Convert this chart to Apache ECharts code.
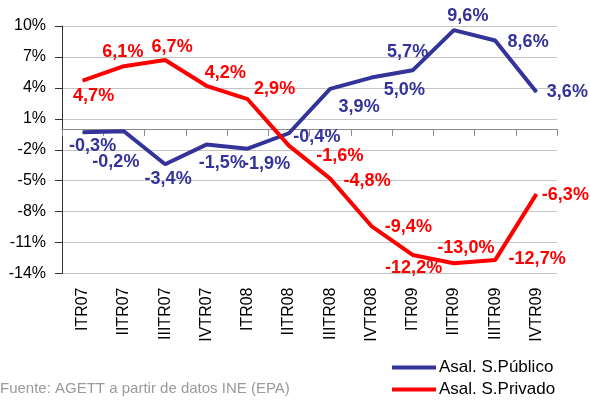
<!DOCTYPE html>
<html>
<head>
<meta charset="utf-8">
<script src="https://cdn.jsdelivr.net/npm/echarts@6/dist/echarts.min.js"></script>
<style>
  html, body { margin: 0; padding: 0; background: #fff; }
  #chart { width: 590px; height: 403px; }
</style>
</head>
<body>
<div id="chart"></div>
<script>
// quarters
const categories = ['ITR07', 'IITR07', 'IIITR07', 'IVTR07', 'ITR08', 'IITR08',
  'IIITR08', 'IVTR08', 'ITR09', 'IITR09', 'IIITR09', 'IVTR09'];

// year-on-year change, %
const publico = [-0.3, -0.2, -3.4, -1.5, -1.9, -0.4, 3.9, 5.0, 5.7, 9.6, 8.6, 3.6];
const privado = [4.7, 6.1, 6.7, 4.2, 2.9, -1.6, -4.8, -9.4, -12.2, -13.0, -12.7, -6.3];

const yTicks = [-14, -11, -8, -5, -2, 1, 4, 7, 10];

// where each value label sits relative to its point (px)
const publicoLabelOffset = [[10, 14], [-8, 31], [3, 15], [16, 18], [19, 15], [28, 4],
  [29, 18], [33, 12], [-5, -18], [14, -14], [33, 2], [31, 0]];
const privadoLabelOffset = [[11, 15], [-1, -14], [7, -13], [19, -13], [27, -10], [51, 10],
  [37, 2], [37, 1], [1, 13], [12, -15], [42, -1], [29, 1]];

const FONT = 'Liberation Sans, Arial, sans-serif';

function pct(v) {
  return v.toFixed(1).replace('.', ',') + '%';
}

function buildSeries(name, values, offsets, color) {
  return {
    name: name,
    type: 'line',
    xAxisIndex: 0,
    data: values.map((v, i) => ({ value: v, label: { offset: offsets[i] } })),
    symbol: 'circle',
    symbolSize: 1,
    showSymbol: true,
    itemStyle: { color: color },
    lineStyle: { color: color, width: 4 },
    label: {
      show: true,
      position: 'inside',
      align: 'center',
      verticalAlign: 'middle',
      color: color,
      fontFamily: FONT,
      fontWeight: 'bold',
      fontSize: 18,
      formatter: p => pct(p.value)
    },
    emphasis: { disabled: true },
    animation: false
  };
}

// one legend per row, stacked like the original
function legendRow(name, top) {
  return {
    orient: 'horizontal',
    left: 392,
    top: top,
    padding: 0,
    itemWidth: 44,
    itemHeight: 4,
    icon: 'rect',
    selectedMode: false,
    textStyle: { color: '#000', fontFamily: FONT, fontSize: 17, padding: [0, 0, 0, -2] },
    data: [name]
  };
}

const chart = echarts.init(document.getElementById('chart'), null, { renderer: 'canvas' });

chart.setOption({
  animation: false,
  grid: { left: 62, right: 33, top: 26, bottom: 129.5, containLabel: false },
  xAxis: [
    {
      type: 'category',
      data: categories,
      boundaryGap: true,
      position: 'bottom',
      axisLine: { onZero: true, lineStyle: { color: '#8c8c8c', width: 1 } },
      axisTick: { show: true, interval: 0, length: 7, lineStyle: { color: '#8c8c8c' } },
      axisLabel: { show: false },
      splitLine: { show: false }
    },
    {
      type: 'category',
      data: categories,
      boundaryGap: true,
      position: 'bottom',
      axisLine: { show: false, onZero: false },
      axisTick: { show: false },
      axisLabel: {
        interval: 0,
        rotate: 90,
        margin: 14,
        color: '#000',
        fontFamily: FONT,
        fontSize: 16
      },
      splitLine: { show: false }
    }
  ],
  yAxis: {
    type: 'value',
    min: -14,
    max: 10,
    axisLine: { show: true, lineStyle: { color: '#333', width: 1 } },
    axisTick: { show: true, inside: false, length: 7, customValues: yTicks, lineStyle: { color: '#333' } },
    axisLabel: {
      customValues: yTicks,
      margin: 16,
      color: '#000',
      fontFamily: FONT,
      fontSize: 16,
      formatter: v => v + '%'
    },
    splitLine: { show: true, lineStyle: { color: '#c4c4c4', width: 1 } }
  },
  legend: [
    legendRow('Asal. S.Público', 359),
    legendRow('Asal. S.Privado', 381)
  ],
  graphic: [{
    type: 'text',
    left: 0,
    top: 381,
    style: {
      text: 'Fuente: AGETT a partir de datos INE (EPA)',
      fill: '#9a9a9a',
      font: '15px ' + FONT
    }
  }],
  series: [
    buildSeries('Asal. S.Público', publico, publicoLabelOffset, '#333399'),
    buildSeries('Asal. S.Privado', privado, privadoLabelOffset, '#ff0000')
  ]
});
</script>
</body>
</html>
